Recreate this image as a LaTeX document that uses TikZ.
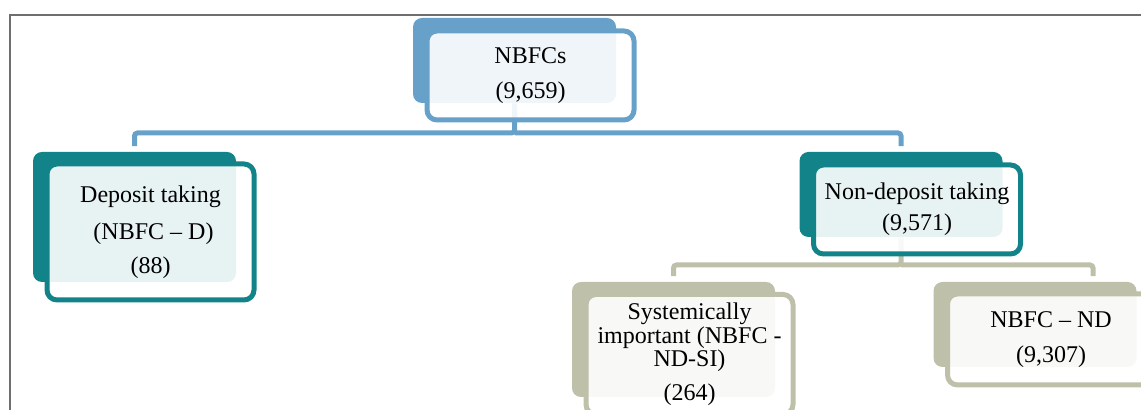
\documentclass[tikz,border=0pt]{standalone}
\usepackage{fontspec}
\setmainfont{Liberation Serif}
\definecolor{Blue}{RGB}{103,161,202}
\definecolor{Teal}{RGB}{18,132,137}
\definecolor{Olive}{RGB}{190,192,170}
\definecolor{Frame}{RGB}{110,110,110}
\begin{document}
\begin{tikzpicture}[
  x=0.5pt,
  y=-0.5pt,
  inner sep=0mm,
  back/.style={fill=#1, rounded corners=4.5pt, minimum width=101.5pt},
  front/.style={draw=#1, line width=2.5pt, fill=white, fill opacity=0.9,
    text opacity=1, rounded corners=5pt, minimum width=103.5pt,
    align=center, font=\fontsize{12}{14}\selectfont,
    xshift=8pt, yshift=-7.5pt},
  link/.style={draw=#1, line width=2.5pt, rounded corners=1.5pt}
  ]
\useasboundingbox (0,0) rectangle (1141,410);
\clip (0,0) rectangle (1141,410);
\draw[Frame, line width=0.75pt] (9.8,410) |- (1141,14.8);
\foreach \n/\c/\x/\y/\h in {
  nbfc/Blue/514.5/60.5/42.5pt, dep/Teal/134.5/217/65pt,
  nondep/Teal/901/194.5/42.5pt, si/Olive/673.5/339.5/57.5pt,
  nd/Olive/1035/324.5/42.5pt}{
  \node[back=\c, minimum height=\h] (\n-b) at (\x,\y) {};}
\coordinate (bus1) at (0,133);
\coordinate (bus2) at (0,265);
\draw[link=Blue] (nbfc-b.south) -- (nbfc-b.south |- bus1)
  -| ([yshift=2.75pt]dep-b.north);
\draw[link=Blue] (nbfc-b.south |- bus1) -| ([yshift=2.75pt]nondep-b.north);
\draw[link=Olive] (nondep-b.south) -- (nondep-b.south |- bus2)
  -| ([yshift=2.75pt]si-b.north);
\draw[link=Olive] (nondep-b.south |- bus2)
  -| ([xshift=29pt,yshift=2.75pt]nd-b.north);
\node[front=Blue, minimum height=44.5pt] (nbfc) at (nbfc-b)
  {NBFCs\\[3.5pt](9,659)};
\node[front=Teal, minimum height=68pt] (dep) at (dep-b)
  {Deposit taking\\[4.5pt]\ (NBFC -- D)\\[3pt](88)};
\node[front=Teal, minimum height=44.5pt] (nondep) at (nondep-b)
  {Non-deposit taking\\[1.5pt](9,571)};
\node[front=Olive, minimum height=60pt] (si) at (si-b)
  {Systemically\\[-2pt]important (NBFC -\\[-2.5pt]ND-SI)\\[3pt](264)};
\node[front=Olive, minimum height=45.5pt] (nd) at (nd-b)
  {NBFC -- ND\\[3.5pt](9,307)};
\end{tikzpicture}
\end{document}
